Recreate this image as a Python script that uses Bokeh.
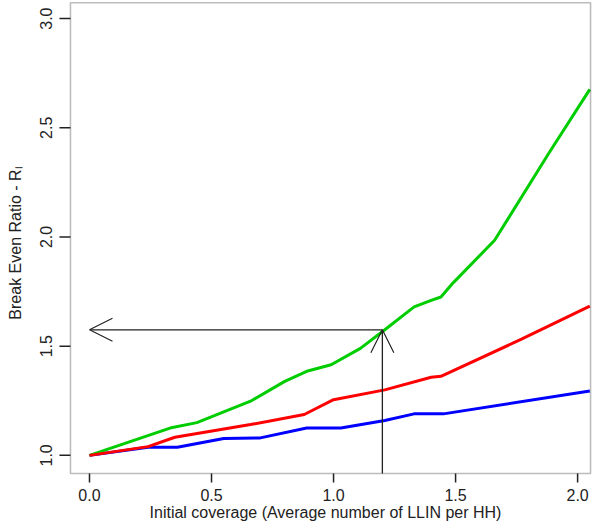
import math
from bokeh.plotting import figure
from bokeh.models import Range1d, FixedTicker, PrintfTickFormatter, Arrow, OpenHead, BoxAnnotation
from bokeh.embed import file_html
from bokeh.resources import INLINE

# ---- data ----
green_x = [0.0, 0.33, 0.44, 0.66, 0.80, 0.89, 0.99, 1.11, 1.21, 1.33, 1.40, 1.44, 1.49, 1.66, 1.88, 2.05]
green_y = [1.0, 1.125, 1.15, 1.248, 1.339, 1.385, 1.415, 1.49, 1.575, 1.68, 1.71, 1.725, 1.79, 1.985, 2.38, 2.676]

red_x = [0.0, 0.24, 0.35, 0.66, 0.88, 1.00, 1.21, 1.40, 1.44, 1.77, 2.05]
red_y = [1.0, 1.04, 1.083, 1.141, 1.187, 1.255, 1.30, 1.358, 1.362, 1.532, 1.683]

blue_x = [0.0, 0.24, 0.36, 0.55, 0.70, 0.89, 1.03, 1.21, 1.33, 1.45, 2.05]
blue_y = [1.0, 1.037, 1.037, 1.077, 1.08, 1.125, 1.125, 1.16, 1.19, 1.19, 1.295]

x_ticks = [0.0, 0.5, 1.0, 1.5, 2.0]
y_ticks = [1.0, 1.5, 2.0, 2.5, 3.0]

arrow_x = 1.2
arrow_y = 1.575

FONT = "Liberation Sans"
INK = "#222222"

# plotting box (the R-style frame) in data units
BOX_L, BOX_R = -0.078, 2.053
BOX_B, BOX_T = 0.917, 3.073
# full data area (box plus room for the tick marks)
X0, X1 = -0.127, 2.061
Y0, Y1 = 0.862, 3.083
W, H = 592, 523
ML, MR, MT, MB = 58, 0, 0, 38
px_x = (W - ML - MR) / (X1 - X0)
px_y = (H - MT - MB) / (Y1 - Y0)
TX, TY = 9, 11   # tick lengths in px
TW = 1.5         # tick thickness in px

p = figure(width=W, height=H, output_backend="svg", toolbar_location=None,
           x_range=Range1d(X0, X1), y_range=Range1d(Y0, Y1),
           min_border_left=ML, min_border_right=MR, min_border_top=MT, min_border_bottom=MB)

p.background_fill_color = "white"
p.border_fill_color = "white"
p.outline_line_color = None
p.xgrid.visible = False
p.ygrid.visible = False

for ax in (p.xaxis[0], p.yaxis[0]):
    ax.axis_line_color = None
    ax.major_tick_line_color = None
    ax.major_tick_in = 0
    ax.major_tick_out = 0
    ax.minor_tick_line_color = None
    ax.major_label_text_font = FONT
    ax.major_label_text_font_size = "16px"
    ax.major_label_text_color = "#222222"
    ax.formatter = PrintfTickFormatter(format="%.1f")
    ax.axis_label_text_font = FONT
    ax.axis_label_text_font_size = "16px"
    ax.axis_label_text_font_style = "normal"
    ax.axis_label_text_color = "#222222"

p.xaxis[0].ticker = FixedTicker(ticks=x_ticks)
p.yaxis[0].ticker = FixedTicker(ticks=y_ticks)
p.yaxis[0].major_label_orientation = "vertical"
p.xaxis[0].major_label_standoff = 3
p.yaxis[0].major_label_standoff = 6

p.xaxis[0].axis_label = "Initial coverage (Average number of LLIN per HH)"
p.xaxis[0].axis_label_standoff = 0
p.yaxis[0].axis_label = "Break Even Ratio - R\u2097"
p.yaxis[0].axis_label_standoff = 14

# curves
p.line(blue_x, blue_y, line_color="#0000FF", line_width=3)
p.line(green_x, green_y, line_color="#00CD00", line_width=3)
p.line(red_x, red_y, line_color="#FF0000", line_width=3)

# arrows
p.add_layout(Arrow(end=OpenHead(size=23, line_color="#222222", line_width=1.2),
                   x_start=arrow_x, y_start=BOX_B, x_end=arrow_x, y_end=arrow_y,
                   line_color="#222222", line_width=1.3))
p.add_layout(Arrow(end=OpenHead(size=23, line_color="#222222", line_width=1.2),
                   x_start=arrow_x, y_start=arrow_y, x_end=0.0, y_end=arrow_y,
                   line_color="#222222", line_width=1.3))

# box around the plotting region
p.add_layout(BoxAnnotation(left=BOX_L, right=BOX_R, bottom=BOX_B, top=BOX_T,
                           fill_alpha=0, line_color=INK, line_width=1.6))

# tick marks as thin filled boxes
hx = TW / 2 / px_x
hy = TW / 2 / px_y
for xt in x_ticks:
    p.add_layout(BoxAnnotation(left=xt - hx, right=xt + hx, top=BOX_B, bottom=BOX_B - TX / px_y,
                               fill_color=INK, fill_alpha=1, line_color=None))
for yt in y_ticks:
    p.add_layout(BoxAnnotation(left=BOX_L - TY / px_x, right=BOX_L, top=yt + hy, bottom=yt - hy,
                               fill_color=INK, fill_alpha=1, line_color=None))

open("out.html", "w").write(file_html(p, INLINE))
